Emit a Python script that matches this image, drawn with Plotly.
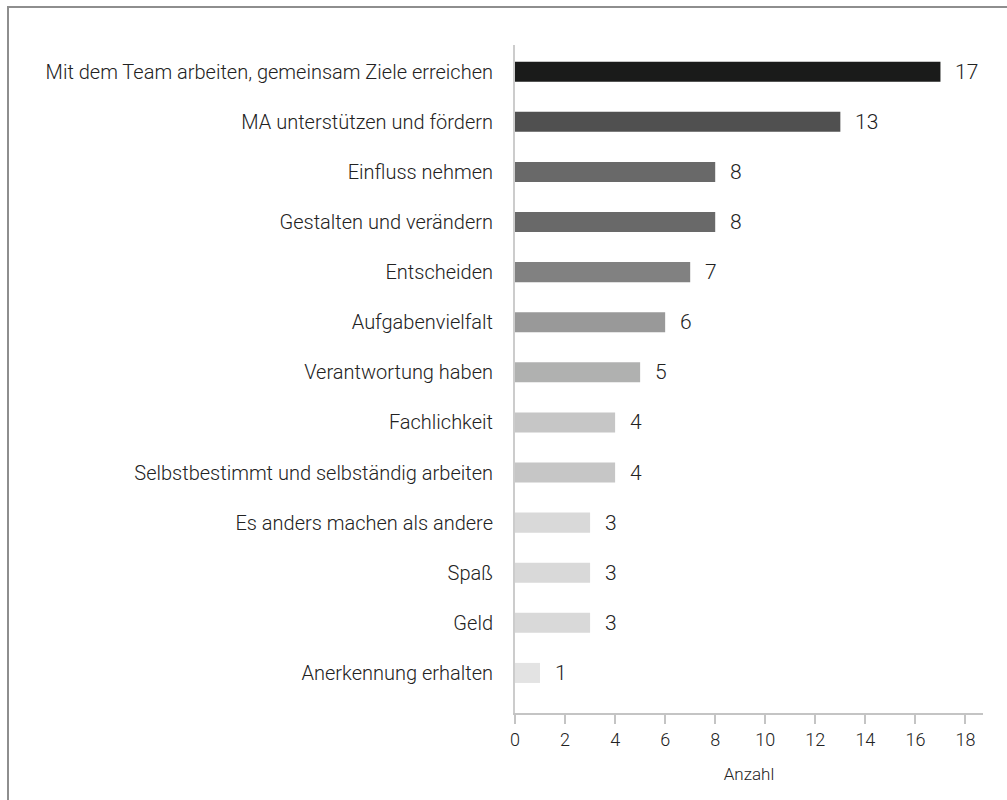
import plotly.graph_objects as go

categories = [
    "Mit dem Team arbeiten, gemeinsam Ziele erreichen",
    "MA unterstützen und fördern",
    "Einfluss nehmen",
    "Gestalten und verändern",
    "Entscheiden",
    "Aufgabenvielfalt",
    "Verantwortung haben",
    "Fachlichkeit",
    "Selbstbestimmt und selbständig arbeiten",
    "Es anders machen als andere",
    "Spaß",
    "Geld",
    "Anerkennung erhalten",
]
values = [17, 13, 8, 8, 7, 6, 5, 4, 4, 3, 3, 3, 1]
bar_colors = ["#1a1b1a", "#505050", "#696969", "#696969", "#818181", "#999999",
              "#b0b1b0", "#c6c6c6", "#c6c6c6", "#d9d9d9", "#d9d9d9", "#d9d9d9", "#e3e3e3"]
x_ticks = [0, 2, 4, 6, 8, 10, 12, 14, 16, 18]
x_title = "Anzahl"

W, H = 1007, 800
ML, MR, MT, MB = 515, 24, 45, 87
FONT = "Roboto, Open Sans, sans-serif"
TXT = "#222222"
WGT = 300

fig = go.Figure()
fig.add_trace(go.Bar(
    x=values, y=categories, orientation="h",
    marker=dict(color=bar_colors, line=dict(width=0)),
    width=0.4, hoverinfo="skip",
))

for c, v in zip(categories, values):
    fig.add_annotation(x=v, y=c, text=str(v), showarrow=False,
                       xanchor="left", yanchor="middle", xshift=13,
                       font=dict(family=FONT, size=21, color=TXT, weight=WGT))

pw = W - ML - MR
ph = H - MT - MB
def px_x(p):
    return (p - ML) / pw
def px_y(p):
    return (H - MB - p) / ph

line_col = "#8e8e8e"
fig.add_shape(type="line", xref="paper", yref="paper",
              x0=px_x(7), x1=px_x(W + 5), y0=px_y(7), y1=px_y(7),
              line=dict(color=line_col, width=2))
fig.add_shape(type="line", xref="paper", yref="paper",
              x0=px_x(8), x1=px_x(8), y0=px_y(7), y1=px_y(H + 5),
              line=dict(color=line_col, width=2))

fig.update_layout(
    width=W, height=H,
    margin=dict(l=ML, r=MR, t=MT, b=MB, pad=0, autoexpand=False),
    paper_bgcolor="white", plot_bgcolor="white",
    showlegend=False,
    font=dict(family=FONT, color=TXT, weight=WGT),
    xaxis=dict(
        range=[0, 18.7], tickvals=x_ticks, ticktext=[str(t) for t in x_ticks],
        showgrid=False, zeroline=False, automargin=False,
        showline=True, linecolor="#c4c4c4", linewidth=2,
        ticks="outside", ticklen=9, tickwidth=2, tickcolor="#c4c4c4",
        tickfont=dict(family=FONT, size=18, color=TXT, weight=WGT),
        title=dict(text=x_title, font=dict(family=FONT, size=17, color=TXT, weight=WGT), standoff=20),
    ),
    yaxis=dict(
        type="category", categoryorder="array", categoryarray=categories,
        range=[12.8, -0.533], automargin=False,
        showgrid=False, zeroline=False,
        showline=True, linecolor="#cccccc", linewidth=2,
        ticks="outside", ticklen=16, tickcolor="rgba(0,0,0,0)",
        tickfont=dict(family=FONT, size=20, color=TXT, weight=WGT),
    ),
)

fig.write_html("out.html", config={"displayModeBar": False},
               post_script="document.body.style.margin='0';")
